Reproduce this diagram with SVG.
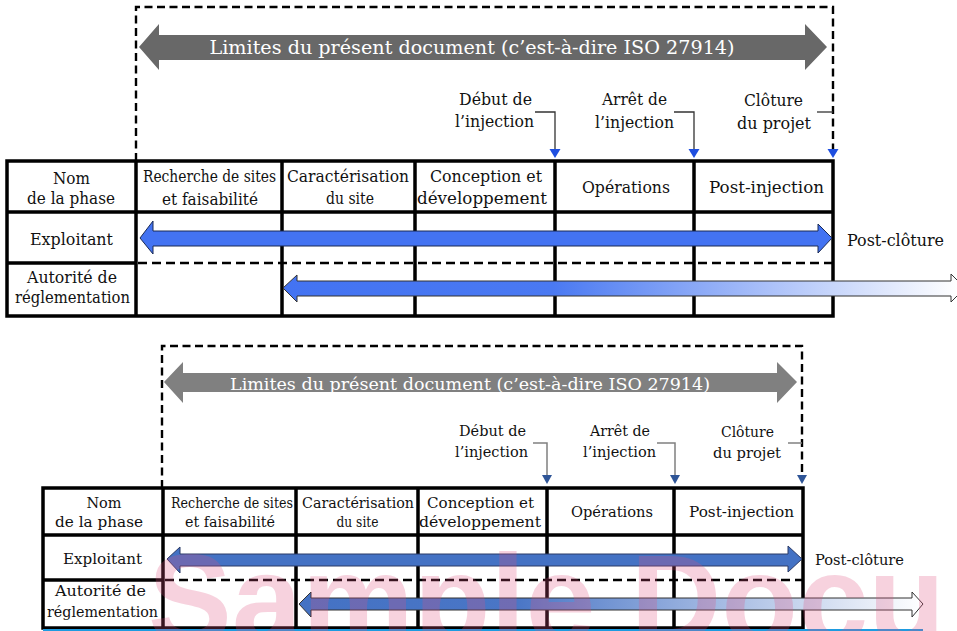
<svg xmlns="http://www.w3.org/2000/svg" width="957" height="631" viewBox="0 0 957 631">
<style>
.t{font-family:"DejaVu Serif","Liberation Serif",serif;font-size:16px;fill:#111;text-anchor:middle}
.b{font-size:15px}
.ti{font-family:"DejaVu Serif","Liberation Serif",serif;fill:#fff;text-anchor:middle}
.grid{stroke:#000;stroke-width:3.5;fill:none}
.dash{stroke:#000;stroke-width:2.4;fill:none;stroke-dasharray:8,4.5}
.dsep{stroke:#000;stroke-width:2.5;fill:none;stroke-dasharray:9,5}
.c1{stroke:#333;stroke-width:1.3;fill:none}
.c2{stroke:#808080;stroke-width:1.5;fill:none}
.wm{font-family:"Liberation Sans",Arial,sans-serif;font-weight:bold;font-size:126px;fill:#e0507f;opacity:0.25}
</style>
<defs>
<linearGradient id="g1" gradientUnits="userSpaceOnUse" x1="283" y1="0" x2="957" y2="0">
<stop offset="0" stop-color="#4373f2"/><stop offset="0.4" stop-color="#4a79f2"/><stop offset="1" stop-color="#ffffff"/>
</linearGradient>
<linearGradient id="g2" gradientUnits="userSpaceOnUse" x1="299" y1="0" x2="923" y2="0">
<stop offset="0" stop-color="#4472c4"/><stop offset="0.35" stop-color="#4a76c6"/><stop offset="1" stop-color="#ffffff"/>
</linearGradient>
</defs>
<rect width="957" height="631" fill="#fff"/>

<!-- TOP DIAGRAM -->
<g id="top-scope">
<path class="dash" d="M136,161 V7 H833 V150"/>
<polygon fill="#686868" points="139,47 159,24 159,35 805,35 805,24 827,47 805,70 805,60 159,60 159,70"/>
<text class="ti" x="472" y="54" font-size="19" textLength="525" lengthAdjust="spacingAndGlyphs">Limites du présent document (c’est-à-dire ISO 27914)</text>
</g>
<g id="top-table">
<rect class="grid" x="7" y="161" width="826" height="155"/>
<path class="grid" d="M7,212 H833 M7,263 H136 M136,161 V316 M282,161 V316 M415,161 V316 M555,161 V316 M694,161 V316"/>
<path class="dsep" d="M138,263 H833"/>
</g>
<g id="top-h0"><text class="t" x="71.5" y="184" textLength="37" lengthAdjust="spacingAndGlyphs">Nom</text><text class="t" x="71" y="204" textLength="88" lengthAdjust="spacingAndGlyphs">de la phase</text></g>
<g id="top-h1"><text class="t" x="209.5" y="182" textLength="133" lengthAdjust="spacingAndGlyphs">Recherche de sites</text><text class="t" x="210" y="205" textLength="96" lengthAdjust="spacingAndGlyphs">et faisabilité</text></g>
<g id="top-h2"><text class="t" x="348" y="182" textLength="122" lengthAdjust="spacingAndGlyphs">Caractérisation</text><text class="t" x="350" y="204" textLength="48" lengthAdjust="spacingAndGlyphs">du site</text></g>
<g id="top-h3"><text class="t" x="486" y="182" textLength="112" lengthAdjust="spacingAndGlyphs">Conception et</text><text class="t" x="482" y="204" textLength="130" lengthAdjust="spacingAndGlyphs">développement</text></g>
<g id="top-h4"><text class="t" x="626" y="193" textLength="88" lengthAdjust="spacingAndGlyphs">Opérations</text></g>
<g id="top-h5"><text class="t" x="766.5" y="193" textLength="115" lengthAdjust="spacingAndGlyphs">Post-injection</text></g>
<g id="top-r1"><text class="t" x="71.5" y="245" textLength="83" lengthAdjust="spacingAndGlyphs">Exploitant</text></g>
<g id="top-r2"><text class="t" x="72" y="283" textLength="90" lengthAdjust="spacingAndGlyphs">Autorité de</text><text class="t" x="72.5" y="303" textLength="115" lengthAdjust="spacingAndGlyphs">réglementation</text></g>
<g id="top-postclot"><text class="t" x="847" y="246" style="text-anchor:start" textLength="97" lengthAdjust="spacingAndGlyphs">Post-clôture</text></g>
<g id="top-l1"><text class="t" x="495.5" y="105" textLength="73" lengthAdjust="spacingAndGlyphs">Début de</text><text class="t" x="494.5" y="127" textLength="79" lengthAdjust="spacingAndGlyphs">l’injection</text></g>
<g id="top-l2"><text class="t" x="634.5" y="105" textLength="65" lengthAdjust="spacingAndGlyphs">Arrêt de</text><text class="t" x="634.5" y="128" textLength="79" lengthAdjust="spacingAndGlyphs">l’injection</text></g>
<g id="top-l3"><text class="t" x="773.5" y="106" textLength="59" lengthAdjust="spacingAndGlyphs">Clôture</text><text class="t" x="774" y="129" textLength="74" lengthAdjust="spacingAndGlyphs">du projet</text></g>

<g id="top-connectors">
<path class="c1" d="M535,112 H555 V150"/>
<path class="c1" d="M674,112 H694 V150"/>
<path class="c1" d="M817,112 H833"/>
<polygon fill="#1f4fe0" points="549.5,149 560.5,149 555,158"/>
<polygon fill="#1f4fe0" points="688.5,149 699.5,149 694,158"/>
<polygon fill="#1f4fe0" points="827.5,149 838.5,149 833,158"/>
<polygon fill="#4373f2" stroke="#1a2a55" stroke-width="1" points="140,238 153,221 153,231 818,231 818,224 832,238 818,253 818,246 153,246 153,254"/>
<polygon fill="url(#g1)" stroke="#333" stroke-width="1" points="283,288 297,275 297,281 951,281 951,274 965,288 951,302 951,296 297,296 297,302"/>
</g>

<!-- BOTTOM DIAGRAM -->
<g id="bot-scope">
<path class="dash" d="M162,488 V346 H802 V476"/>
<polygon fill="#808080" points="164,382 183,362 183,373 777,373 777,362 797,382 777,403 777,392 183,392 183,403"/>
<text class="ti" x="470" y="390" font-size="17.5" textLength="480" lengthAdjust="spacingAndGlyphs">Limites du présent document (c’est-à-dire ISO 27914)</text>
</g>
<g id="bot-table">
<rect class="grid" x="43" y="488" width="760" height="140"/>
<path class="grid" d="M43,535 H803 M43,580 H163 M163,488 V628 M296,488 V628 M418,488 V628 M547,488 V628 M674,488 V628"/>
<path class="dsep" d="M165,580 H803"/>
<line x1="43" y1="630" x2="923" y2="630" stroke="#1e9be0" stroke-width="2"/>
</g>
<g id="bot-h0"><text class="t b" x="104" y="508" textLength="35" lengthAdjust="spacingAndGlyphs">Nom</text><text class="t b" x="99" y="527" textLength="88" lengthAdjust="spacingAndGlyphs">de la phase</text></g>
<g id="bot-h1"><text class="t b" x="232" y="508" textLength="122" lengthAdjust="spacingAndGlyphs">Recherche de sites</text><text class="t b" x="230" y="527" textLength="90" lengthAdjust="spacingAndGlyphs">et faisabilité</text></g>
<g id="bot-h2"><text class="t b" x="358" y="508" textLength="112" lengthAdjust="spacingAndGlyphs">Caractérisation</text><text class="t b" x="357.5" y="527" textLength="42" lengthAdjust="spacingAndGlyphs">du site</text></g>
<g id="bot-h3"><text class="t b" x="480.5" y="508" textLength="107" lengthAdjust="spacingAndGlyphs">Conception et</text><text class="t b" x="480" y="527" textLength="122" lengthAdjust="spacingAndGlyphs">développement</text></g>
<g id="bot-h4"><text class="t b" x="612" y="517" textLength="82" lengthAdjust="spacingAndGlyphs">Opérations</text></g>
<g id="bot-h5"><text class="t b" x="741.5" y="517" textLength="105" lengthAdjust="spacingAndGlyphs">Post-injection</text></g>
<g id="bot-r1"><text class="t b" x="102.5" y="564" textLength="79" lengthAdjust="spacingAndGlyphs">Exploitant</text></g>
<g id="bot-r2"><text class="t b" x="100.5" y="596" textLength="91" lengthAdjust="spacingAndGlyphs">Autorité de</text><text class="t b" x="102.5" y="617" textLength="111" lengthAdjust="spacingAndGlyphs">réglementation</text></g>
<g id="bot-postclot"><text class="t b" x="815" y="565" style="text-anchor:start" textLength="89" lengthAdjust="spacingAndGlyphs">Post-clôture</text></g>
<g id="bot-l1"><text class="t b" x="492.5" y="436" textLength="67" lengthAdjust="spacingAndGlyphs">Début de</text><text class="t b" x="491.5" y="457" textLength="73" lengthAdjust="spacingAndGlyphs">l’injection</text></g>
<g id="bot-l2"><text class="t b" x="620" y="436" textLength="60" lengthAdjust="spacingAndGlyphs">Arrêt de</text><text class="t b" x="619.5" y="457" textLength="73" lengthAdjust="spacingAndGlyphs">l’injection</text></g>
<g id="bot-l3"><text class="t b" x="747.5" y="437" textLength="53" lengthAdjust="spacingAndGlyphs">Clôture</text><text class="t b" x="747" y="458" textLength="68" lengthAdjust="spacingAndGlyphs">du projet</text></g>

<g id="bot-connectors">
<path class="c2" d="M533,443 H547 V476"/>
<path class="c2" d="M657,443 H675 V476"/>
<path class="c2" d="M788,443 H802"/>
<polygon fill="#2f5597" points="542,475 552,475 547,484"/>
<polygon fill="#2f5597" points="670,475 680,475 675,484"/>
<polygon fill="#2f5597" points="797,475 807,475 802,484"/>
<polygon fill="#4472c4" stroke="#2b3a66" stroke-width="1" points="167,559 180,547 180,554 788,554 788,546 802,559 788,572 788,566 180,566 180,573"/>
<polygon fill="url(#g2)" stroke="#333" stroke-width="1" points="299,604 311,592 311,598 912,598 912,592 923,604 912,617 912,610 311,610 311,617"/>
</g>

<text class="wm" x="148" y="643" textLength="797" lengthAdjust="spacingAndGlyphs">Sample Docu</text>
</svg>
